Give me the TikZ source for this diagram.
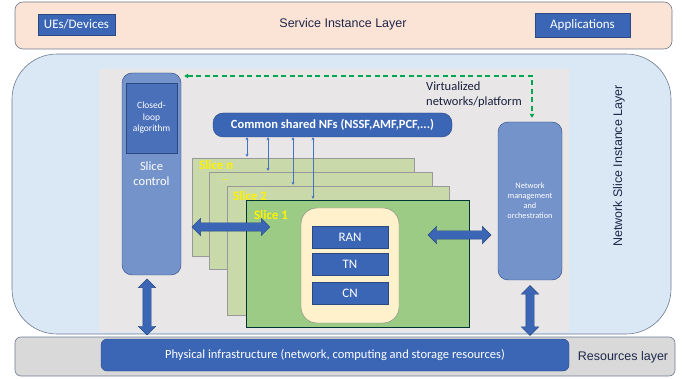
\documentclass[tikz,border=0pt]{standalone}
\usepackage{fontspec}
\setmainfont{Carlito}
\newfontfamily\arialfont{Liberation Sans}
\usetikzlibrary{shapes.arrows,arrows.meta,positioning}

\definecolor{boxblue}{RGB}{58,102,181}
\definecolor{boxedge}{RGB}{44,72,130}
\definecolor{ctrlblue}{RGB}{116,147,202}
\definecolor{loopblue}{RGB}{74,112,186}
\definecolor{layerblue}{RGB}{218,231,244}
\definecolor{layeredge}{RGB}{110,122,145}
\definecolor{workgray}{RGB}{232,230,230}
\definecolor{servpeach}{RGB}{251,227,214}
\definecolor{resgray}{RGB}{217,217,217}
\definecolor{slicelight}{RGB}{201,217,170}
\definecolor{sliceone}{RGB}{156,203,133}
\definecolor{coreyellow}{RGB}{255,241,204}
\definecolor{navytext}{RGB}{30,40,75}
\definecolor{vgreen}{RGB}{0,166,80}
\definecolor{nfline}{RGB}{68,114,196}

\begin{document}
\begin{tikzpicture}[x=1pt, y=-1pt,
  layer/.style={draw=layeredge, line width=0.6pt},
  bluebox/.style={draw=boxedge, fill=boxblue, text=white, inner sep=0pt, font=\fontsize{13}{15}\selectfont},
  ctrlbox/.style={draw=boxedge, fill=ctrlblue, text=white, inner sep=0pt, rounded corners=10pt},
  slicebox/.style={draw=gray!80, fill=slicelight, inner sep=0pt},
  slicelabel/.style={text=yellow, font=\bfseries\fontsize{13}{15}\selectfont, inner sep=0pt},
  fatarrow/.style={double arrow, draw=boxedge, fill=boxblue, inner xsep=0pt, inner ysep=4pt, double arrow head extend=4.5pt, minimum height=#1},
  nfarrow/.style={draw=nfline, line width=0.6pt, {Stealth[length=3pt,width=3pt]}-{Stealth[length=3pt,width=3pt]}}]
\useasboundingbox (0,0) rectangle (688,379);

% Service instance layer
\node[layer, fill=servpeach, rounded corners=8pt, minimum width=657pt, minimum height=47pt] (serv) at (343.5,25.5) {};
\node[bluebox, minimum width=77pt, minimum height=21pt] (ue) at (76.5,24.5) {UEs/Devices};
\node[bluebox, minimum width=95pt, minimum height=24pt] (apps) at (582.5,25) {Applications};
\node[text=navytext, font=\arialfont\fontsize{12.5}{14}\selectfont] (servtxt) at (343,24) {Service Instance Layer};

% Network slice instance layer
\node[layer, fill=layerblue, rounded corners=45pt, minimum width=659pt, minimum height=280pt] (nsl) at (341.5,194) {};
\node[fill=workgray, inner sep=0pt, minimum width=470pt, minimum height=263pt] (work) at (334,200.5) {};
\node[rotate=90, text=navytext, font=\arialfont\fontsize{12.5}{14}\selectfont] (nsltxt) at (619,166) {Network Slice Instance Layer};

% Resources layer
\node[layer, fill=resgray, rounded corners=6pt, minimum width=660pt, minimum height=39pt] (res) at (345,356.5) {};
\node[bluebox, rounded corners=6pt, minimum width=468pt, minimum height=32pt, font=\fontsize{12.5}{14}\selectfont] (phys) at (335,355) {Physical infrastructure (network, computing and storage resources)};
\node[text=navytext, font=\arialfont\fontsize{12.5}{14}\selectfont] (restxt) at (623,357) {Resources layer};

% Slice control and orchestration
\node[ctrlbox, minimum width=59pt, minimum height=202pt] (sc) at (151.5,174) {};
\node[draw=boxedge, fill=loopblue, text=white, inner sep=0pt, minimum width=51pt, minimum height=70pt, align=center, font=\fontsize{9.5}{11.5}\selectfont] (loop) at (151.5,118) {Closed-\\loop\\algorithm};
\node[text=white, align=center, font=\fontsize{12.5}{15}\selectfont] (sctxt) at (151.5,174) {Slice\\control};
\node[ctrlbox, minimum width=64pt, minimum height=158pt, align=center, font=\fontsize{8.3}{10}\selectfont] (nm) at (530,201) {Network\\management\\and\\orchestration};
\node[bluebox, rounded corners=10pt, minimum width=239pt, minimum height=24pt, font=\bfseries\fontsize{12.5}{14}\selectfont] (nfs) at (332.5,125) {Common shared NFs (NSSF,AMF,PCF,...)};
\node[anchor=west, align=left, text=navytext!80!black, font=\fontsize{12.5}{15}\selectfont, inner sep=0pt] (virt) at (426,94.5) {Virtualized\\networks/platform};

% Slices
\node[slicebox, minimum width=222pt, minimum height=98pt] (sn) at (303,207) {};
\node[slicebox, minimum width=223pt, minimum height=97pt] (sd) at (320.5,220.5) {};
\node[slicebox, minimum width=222pt, minimum height=129pt] (s2) at (338,250.5) {};
\node[draw=black!60!teal, fill=sliceone, inner sep=0pt, minimum width=223pt, minimum height=127pt] (s1) at (357.5,263.5) {};
\node[slicelabel, anchor=west] (lsn) at ([xshift=7pt,yshift=-7pt]sn.north west) {Slice n};
\node[slicelabel, anchor=west, font=\bfseries\fontsize{8}{10}\selectfont] (lsd) at ([xshift=13pt,yshift=-8pt]sd.north west) {...};
\node[slicelabel, anchor=west] (ls2) at ([xshift=6pt,yshift=-10pt]s2.north west) {Slice 2};
\node[slicelabel, anchor=west] (ls1) at ([xshift=8pt,yshift=-15pt]s1.north west) {Slice 1};

% Slice 1 domains
\node[draw=gray, fill=coreyellow, rounded corners=16pt, inner sep=0pt, minimum width=98pt, minimum height=115pt] (core) at (350,265.5) {};
\node[bluebox, minimum width=76pt, minimum height=22pt] (ran) at (350,237) {RAN};
\node[bluebox, minimum width=76pt, minimum height=22pt] (tn) at (350,264) {TN};
\node[bluebox, minimum width=76pt, minimum height=22pt] (cn) at (350,293) {CN};

% Links from the shared NFs
\foreach \xx/\sl in {247/sn, 268/sd, 293/s2, 313/s1}
  \draw[nfarrow] (nfs.south -| \xx,0) -- ([yshift=1pt]\sl.north -| \xx,0);

% Virtualized networks/platform
\coordinate (vcorner) at (532,76);
\draw[vgreen, line width=1.3pt, dash pattern=on 5pt off 3.5pt, {Triangle[length=4pt,width=4.5pt]}-{Triangle[length=4pt,width=4.5pt]}] ([xshift=3pt]sc.east |- vcorner) -- (vcorner) -- ([yshift=4pt]nm.north -| vcorner);

% Block arrows
\path ([xshift=-4.5pt]sc.south) -- ([xshift=-4.5pt]phys.north -| sc.south) node[midway, fatarrow=56pt, rotate=90] (scphys) {};
\path (nm.south) -- (phys.north -| nm.south) node[midway, yshift=-1pt, fatarrow=50pt, rotate=90] (nmphys) {};
\path (sn.west |- 0,227) -- (270,227) node[midway, fatarrow=78pt] (scslice) {};
\path (428,235) -- (491,235) node[midway, fatarrow=63pt] (slicenm) {};
\end{tikzpicture}
\end{document}
